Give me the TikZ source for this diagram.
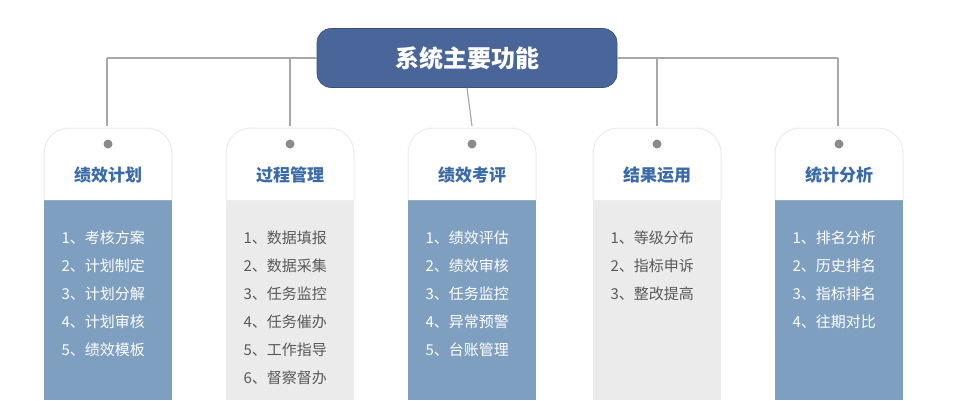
\documentclass[tikz,border=0pt]{standalone}
\usepackage{fontspec}
\setmainfont{Noto Sans CJK SC}
\begin{document}
\begin{tikzpicture}[x=1pt,y=-1pt,
  hdr/.style={rounded corners=14pt,fill=hdrblue,draw=hdrblue!80!black,line width=0.6pt,minimum width=300pt,minimum height=59pt,text=white,font=\bfseries\fontsize{24}{28}\selectfont},
  conn/.style={draw=linegray,line width=1.2pt},
  ttl/.style={text=ttlblue,font=\bfseries\fontsize{17}{20}\selectfont},
  itemw/.style={text=white,font=\fontsize{15}{18}\selectfont,anchor=west},
  itemg/.style={text=itgray,font=\fontsize{15}{18}\selectfont,anchor=west},
  dot/.style={circle,fill=dotgray,inner sep=0pt,minimum size=9pt}]
\definecolor{hdrblue}{HTML}{4A6599}
\definecolor{linegray}{HTML}{A8A8A8}
\definecolor{ttlblue}{HTML}{3A6AA8}
\definecolor{bodyblue}{HTML}{7F9FC1}
\definecolor{bodygray}{HTML}{EBEBEB}
\definecolor{itgray}{HTML}{5A5A5A}
\definecolor{dotgray}{HTML}{8A8A8A}
\useasboundingbox (0,0) rectangle (972,400);
\node[hdr] (h) at (467,58) {系统主要功能};
\coordinate (L) at (107,58);
\coordinate (R) at (838,58);
\draw[conn] (L) -- (h.west) (h.east) -- (R);
\def\card#1#2#3#4{%
  \fill[#2,rounded corners=0pt] (#1-64,200) rectangle (#1+64,400);
  \draw[draw=black!8,fill=white,line width=1pt] (#1-64,200) -- (#1-64,153) arc[start angle=180,end angle=270,radius=25] -- (#1+39,128) arc[start angle=270,end angle=360,radius=25] -- (#1+64,200);
}
\foreach \x/\c [count=\i] in {108/bodyblue,290/bodygray,472/bodyblue,657/bodygray,839/bodyblue}{
  \card{\x}{\c}{}{}
  \node[dot] (d\i) at (\x,144) {};
  \coordinate (t\i) at (\x,58);
}
\draw[conn] (L) -- (107,126);
\draw[conn] (290,58) -- (290,126);
\draw[conn] (h.south) -- (472,126);
\draw[conn] (657,58) -- (657,126);
\draw[conn] (R) -- (838,126);
\node[ttl] (n1) at (108,175) {绩效计划};
\node[ttl] (n2) at (290,175) {过程管理};
\node[ttl] (n3) at (472,175) {绩效考评};
\node[ttl] (n4) at (657,175) {结果运用};
\node[ttl] (n5) at (839,175) {统计分析};
\foreach \t [count=\j] in {1、考核方案,2、计划制定,3、计划分解,4、计划审核,5、绩效模板}
  \node[itemw] (a\j) at (58,210+28*\j) {\t};
\foreach \t [count=\j] in {1、数据填报,2、数据采集,3、任务监控,4、任务催办,5、工作指导,6、督察督办}
  \node[itemg] (b\j) at (240,210+28*\j) {\t};
\foreach \t [count=\j] in {1、绩效评估,2、绩效审核,3、任务监控,4、异常预警,5、台账管理}
  \node[itemw] (c\j) at (422,210+28*\j) {\t};
\foreach \t [count=\j] in {1、等级分布,2、指标申诉,3、整改提高}
  \node[itemg] (e\j) at (607,210+28*\j) {\t};
\foreach \t [count=\j] in {1、排名分析,2、历史排名,3、指标排名,4、往期对比}
  \node[itemw] (f\j) at (789,210+28*\j) {\t};
\end{tikzpicture}
\end{document}
